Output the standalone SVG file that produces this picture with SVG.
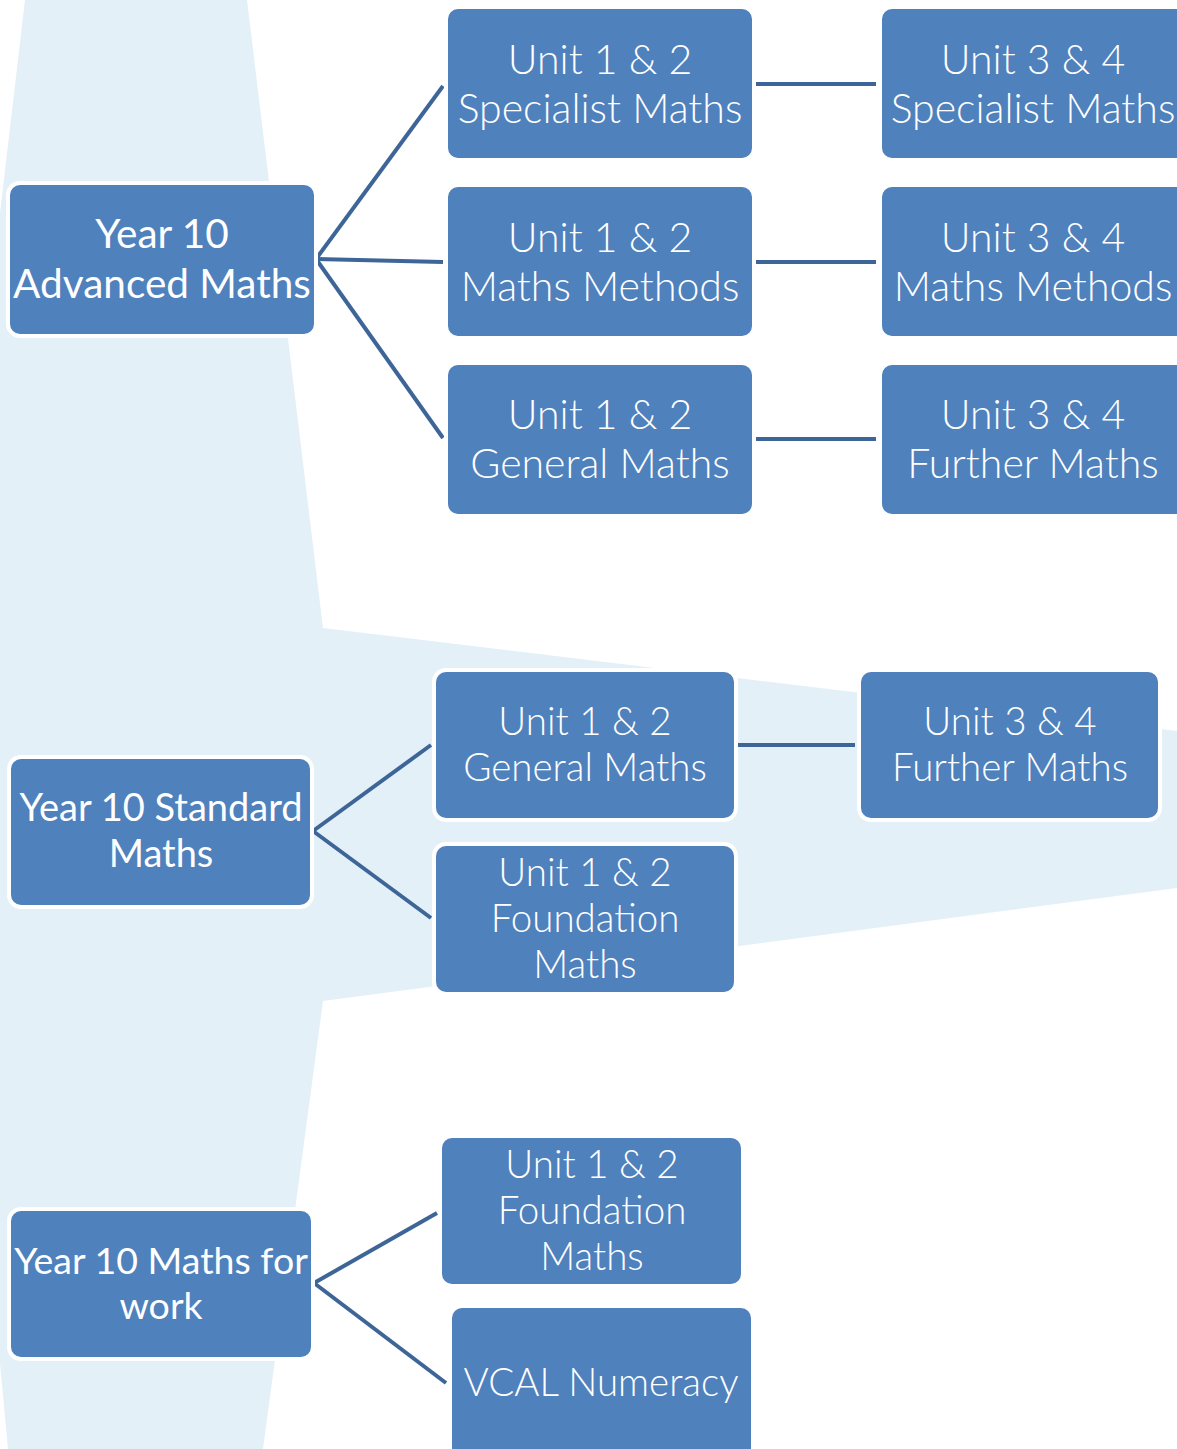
<svg xmlns="http://www.w3.org/2000/svg" width="1177" height="1449" viewBox="0 0 1177 1449">
<style>
.bg{fill:#e3f0f8}
.box{fill:#4f81bd;stroke:#ffffff;stroke-width:4}
.t{fill:#ffffff;font-family:Lato,"Liberation Sans",sans-serif;font-weight:300;text-anchor:middle}
.y{font-weight:400}
.c{stroke:#3e6597;stroke-width:4;fill:none}
</style>
<polygon class="bg" points="25,0 247,0 323,628 1177,731 1177,888 323,1001 263,1449 8,1449 -60,724"/>
<g id="connectors">
<line class="c" x1="316" y1="259" x2="443" y2="86"/>
<line class="c" x1="316" y1="259" x2="443" y2="262"/>
<line class="c" x1="316" y1="259" x2="443" y2="438"/>
<line class="c" x1="755" y1="84" x2="876" y2="84"/>
<line class="c" x1="755" y1="262" x2="876" y2="262"/>
<line class="c" x1="755" y1="439" x2="876" y2="439"/>
<line class="c" x1="313" y1="831" x2="431" y2="745"/>
<line class="c" x1="313" y1="831" x2="431" y2="918"/>
<line class="c" x1="737" y1="745" x2="855" y2="745"/>
<line class="c" x1="314" y1="1283" x2="437" y2="1213"/>
<line class="c" x1="314" y1="1283" x2="446" y2="1383"/>
</g>
<g id="n-adv">
<rect class="box" x="8" y="183" width="308" height="153" rx="12"/>
<text class="t y" x="162" y="248" font-size="40.5">Year 10</text>
<text class="t y" x="162" y="298" font-size="40.5">Advanced Maths</text>
</g>
<g id="n-spec12">
<rect class="box" x="446" y="7" width="308" height="153" rx="12"/>
<text class="t" x="600" y="74" font-size="41">Unit 1 &amp; 2</text>
<text class="t" x="600" y="123" font-size="41">Specialist Maths</text>
</g>
<g id="n-spec34">
<rect class="box" x="880" y="7" width="308" height="153" rx="12"/>
<text class="t" x="1033" y="74" font-size="41">Unit 3 &amp; 4</text>
<text class="t" x="1033" y="123" font-size="41">Specialist Maths</text>
</g>
<g id="n-meth12">
<rect class="box" x="446" y="185" width="308" height="153" rx="12"/>
<text class="t" x="600" y="252" font-size="41">Unit 1 &amp; 2</text>
<text class="t" x="600" y="301" font-size="41">Maths Methods</text>
</g>
<g id="n-meth34">
<rect class="box" x="880" y="185" width="308" height="153" rx="12"/>
<text class="t" x="1033" y="252" font-size="41">Unit 3 &amp; 4</text>
<text class="t" x="1033" y="301" font-size="41">Maths Methods</text>
</g>
<g id="n-gen12a">
<rect class="box" x="446" y="363" width="308" height="153" rx="12"/>
<text class="t" x="600" y="429" font-size="41">Unit 1 &amp; 2</text>
<text class="t" x="600" y="478" font-size="41">General Maths</text>
</g>
<g id="n-fur34a">
<rect class="box" x="880" y="363" width="308" height="153" rx="12"/>
<text class="t" x="1033" y="429" font-size="41">Unit 3 &amp; 4</text>
<text class="t" x="1033" y="478" font-size="41">Further Maths</text>
</g>
<g id="n-std">
<rect class="box" x="9" y="757" width="303" height="150" rx="12"/>
<text class="t y" x="161" y="821" font-size="38">Year 10 Standard</text>
<text class="t y" x="161" y="867" font-size="38">Maths</text>
</g>
<g id="n-gen12b">
<rect class="box" x="434" y="670" width="302" height="150" rx="12"/>
<text class="t" x="585" y="735" font-size="38.5">Unit 1 &amp; 2</text>
<text class="t" x="585" y="781" font-size="38.5">General Maths</text>
</g>
<g id="n-fur34b">
<rect class="box" x="859" y="670" width="301" height="150" rx="12"/>
<text class="t" x="1010" y="735" font-size="38.5">Unit 3 &amp; 4</text>
<text class="t" x="1010" y="781" font-size="38.5">Further Maths</text>
</g>
<g id="n-fnd12a">
<rect class="box" x="434" y="844" width="302" height="150" rx="12"/>
<text class="t" x="585" y="886" font-size="38.5">Unit 1 &amp; 2</text>
<text class="t" x="585" y="932" font-size="38.5">Foundation</text>
<text class="t" x="585" y="978" font-size="38.5">Maths</text>
</g>
<g id="n-work">
<rect class="box" x="9" y="1209" width="304" height="150" rx="12"/>
<text class="t y" x="161" y="1274" font-size="37.5">Year 10 Maths for</text>
<text class="t y" x="161" y="1319" font-size="37.5">work</text>
</g>
<g id="n-fnd12b">
<rect class="box" x="440" y="1136" width="303" height="150" rx="12"/>
<text class="t" x="592" y="1178" font-size="38.5">Unit 1 &amp; 2</text>
<text class="t" x="592" y="1224" font-size="38.5">Foundation</text>
<text class="t" x="592" y="1270" font-size="38.5">Maths</text>
</g>
<g id="n-vcal">
<rect class="box" x="450" y="1306" width="303" height="164" rx="12"/>
<text class="t" x="601" y="1396" font-size="38.5">VCAL Numeracy</text>
</g>
</svg>
